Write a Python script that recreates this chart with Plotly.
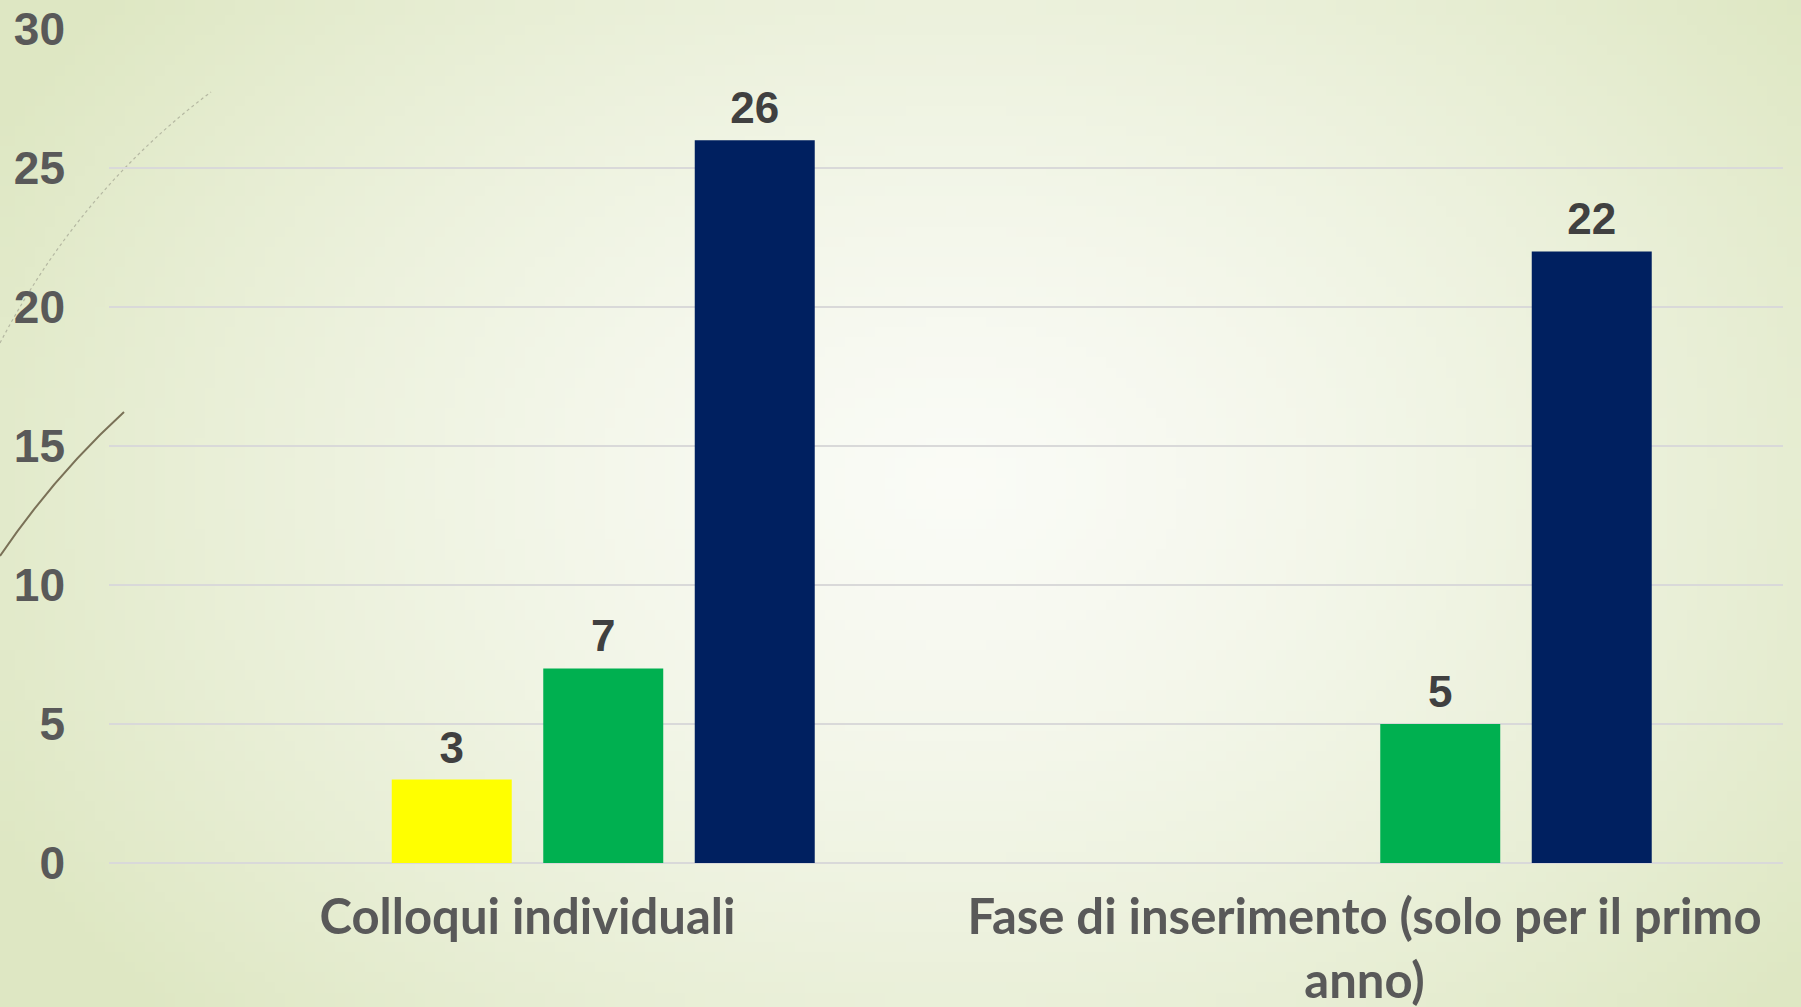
import base64, struct, zlib, math
import plotly.graph_objects as go

# ---------------- data ----------------
categories = ["Colloqui individuali", "Fase di inserimento (solo per il primo anno)"]
category_labels = ["Colloqui individuali", "Fase di inserimento (solo per il primo<br>anno)"]
series_names = ["Serie 1", "Serie 2", "Serie 3", "Serie 4"]
serie_1 = [None, None]
serie_2 = [3, None]
serie_3 = [7, 5]
serie_4 = [26, 22]
y_ticks = [0, 5, 10, 15, 20, 25, 30]

series_values = [serie_1, serie_2, serie_3, serie_4]
series_colors = ["#4472C4", "#FFFF00", "#00B050", "#002060"]

W, H = 1801, 1007
ML, MR, MT, MB = 109, 18, 29, 144
PW, PH = W - ML - MR, H - MT - MB


# ---------------- background gradient png ----------------
def make_png(w, h):
    c_in = (250, 251, 246)
    c_out = (222, 231, 195)
    cx, cy, rx, ry = 0.53, 0.48, 0.60, 0.78
    rows = []
    for j in range(h):
        row = bytearray([0])
        for i in range(w):
            u = (i + 0.5) / w
            v = (j + 0.5) / h
            t = math.sqrt(((u - cx) / rx) ** 2 + ((v - cy) / ry) ** 2)
            t = min(1.0, t) ** 1.35
            for k in range(3):
                row.append(int(round(c_in[k] + (c_out[k] - c_in[k]) * t)))
        rows.append(bytes(row))
    raw = b"".join(rows)

    def chunk(tag, data):
        return struct.pack(">I", len(data)) + tag + data + struct.pack(">I", zlib.crc32(tag + data) & 0xFFFFFFFF)

    png = b"\x89PNG\r\n\x1a\n"
    png += chunk(b"IHDR", struct.pack(">IIBBBBB", w, h, 8, 2, 0, 0, 0))
    png += chunk(b"IDAT", zlib.compress(raw, 9))
    png += chunk(b"IEND", b"")
    return "data:image/png;base64," + base64.b64encode(png).decode()


bg = make_png(180, 100)


def px(X):
    return (X - ML) / PW


def py(Y):
    return (H - MB - Y) / PH


fig = go.Figure()

for name, vals, col in zip(series_names, series_values, series_colors):
    fig.add_trace(go.Bar(
        x=categories, y=vals, name=name, marker=dict(color=col, line=dict(width=0)),
        offsetgroup=name, alignmentgroup="a", hoverinfo="skip", showlegend=False,
    ))

for name, vals in zip(series_names, series_values):
    fig.add_trace(go.Scatter(
        x=categories, y=vals, mode="markers+text",
        text=[("" if v is None else str(v)) for v in vals],
        textposition="top center",
        textfont=dict(family="Liberation Sans", size=44, color="#404040", weight="bold"),
        marker=dict(size=8, opacity=0),
        offsetgroup=name, alignmentgroup="a", hoverinfo="skip", showlegend=False,
        cliponaxis=False,
    ))

shapes = [
    dict(type="path", xref="paper", yref="paper",
         path=f"M {px(0)} {py(343)} Q {px(80)} {py(190)} {px(211)} {py(92)}",
         line=dict(color="#b5b8a2", width=1.2, dash="dot"), layer="below"),
    dict(type="path", xref="paper", yref="paper",
         path=f"M {px(0)} {py(556)} Q {px(55)} {py(475)} {px(124)} {py(412)}",
         line=dict(color="#7a7157", width=2), layer="below"),
]

fig.update_layout(
    width=W, height=H,
    margin=dict(l=ML, r=MR, t=MT, b=MB, pad=0, autoexpand=False),
    paper_bgcolor="#eef2e0", plot_bgcolor="rgba(0,0,0,0)",
    barmode="group", bargap=0.276, bargroupgap=0.208,
    scattermode="group", scattergap=0.276,
    images=[dict(source=bg, xref="paper", yref="paper",
                 x=-ML / PW, y=1 + MT / PH, sizex=W / PW, sizey=H / PH,
                 xanchor="left", yanchor="top", sizing="stretch", layer="below")],
    shapes=shapes,
    xaxis=dict(
        type="category", categoryorder="array", categoryarray=categories,
        tickvals=categories, ticktext=category_labels, tickangle=0, automargin=False,
        showgrid=False, showline=False, zeroline=False, ticks="",
        tickfont=dict(family="Lato", size=49, color="#595959", weight="bold"),
        ticklabelstandoff=21,
    ),
    yaxis=dict(
        range=[0, 30], tickvals=y_ticks, showgrid=True, gridcolor="#d9d9d9", gridwidth=1.5,
        automargin=False,
        zeroline=True, zerolinecolor="#d9d9d9", zerolinewidth=1.5, showline=False, ticks="",
        tickfont=dict(family="Liberation Sans", size=46, color="#595959", weight="bold"),
        ticklabelstandoff=43,
    ),
    showlegend=False,
)

fig.write_html("out.html", config={"displayModeBar": False},
               post_script="document.body.style.margin='0';document.body.style.overflow='hidden';")
